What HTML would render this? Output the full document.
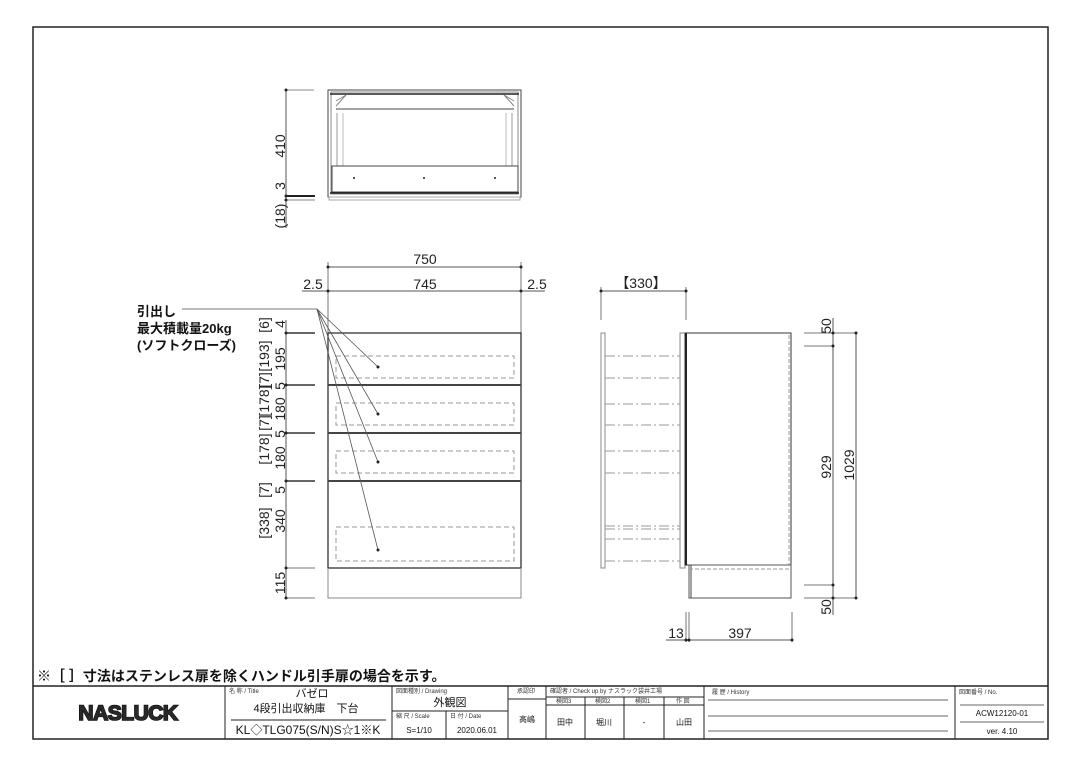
<!DOCTYPE html>
<html><head><meta charset="utf-8"><style>
html,body{margin:0;padding:0;background:#fff;}
svg{display:block;font-family:"Liberation Sans","Noto Sans CJK JP",sans-serif;}
.d{font-size:14px;fill:#222;}
.s{font-size:6px;fill:#333;}
.t{fill:#111;}
</style></head><body>
<svg width="1080" height="764" viewBox="0 0 1080 764" xmlns="http://www.w3.org/2000/svg">
<rect x="0" y="0" width="1080" height="764" fill="#fff"/>
<rect x="33" y="27" width="1015" height="712" fill="none" stroke="#222" stroke-width="1.5"/>

<!-- TOP VIEW -->
<g stroke="#444" fill="none" stroke-width="1">
<rect x="328" y="90" width="193" height="107"/>
<rect x="331" y="92" width="187" height="102" stroke="#888"/>
<line x1="330" y1="94" x2="519" y2="94" stroke="#222" stroke-width="1.5"/>
<line x1="336" y1="109" x2="514" y2="109"/>
<line x1="337" y1="113" x2="337" y2="166" stroke="#999"/>
<line x1="512" y1="113" x2="512" y2="166" stroke="#999"/>
<line x1="343" y1="113" x2="343" y2="166" stroke="#bbb"/>
<line x1="506" y1="113" x2="506" y2="166" stroke="#bbb"/>
<path d="M336 101 L346 95 M336 106 L346 95 M514 101 L504 95 M514 106 L504 95" stroke="#888"/>
<rect x="332" y="166" width="186" height="26"/>
<line x1="330" y1="193" x2="519" y2="193" stroke="#222" stroke-width="1.5"/>
<rect x="329" y="197" width="191" height="3" stroke="#aaa"/>
<line x1="286" y1="90" x2="286" y2="228" stroke="#555"/>
<line x1="286" y1="90" x2="314" y2="90" stroke="#888"/>
<line x1="286" y1="196" x2="315" y2="196" stroke="#222" stroke-width="2"/>
<line x1="286" y1="200" x2="315" y2="200" stroke="#888"/>
</g>
<g fill="#222"><circle cx="286" cy="90" r="1.5"/><circle cx="286" cy="196" r="1.5"/><circle cx="286" cy="200" r="1.5"/>
<circle cx="354" cy="178" r="1"/><circle cx="424" cy="178" r="1"/><circle cx="495" cy="178" r="1"/></g>
<text class="d" transform="translate(285,146) rotate(-90)" text-anchor="middle">410</text>
<text class="d" transform="translate(285,186) rotate(-90)" text-anchor="middle">3</text>
<text class="d" transform="translate(285,216) rotate(-90)" text-anchor="middle">(18)</text>

<!-- FRONT VIEW -->
<g stroke="#444" fill="none" stroke-width="1">
<line x1="328" y1="262" x2="328" y2="333" stroke="#777"/>
<line x1="521" y1="262" x2="521" y2="333" stroke="#777"/>
<line x1="328" y1="267" x2="521" y2="267" stroke="#555"/>
<line x1="302" y1="291" x2="545" y2="291" stroke="#555"/>
<rect x="328" y="333" width="193" height="235" stroke="#333" stroke-width="1.3"/>
<line x1="328" y1="385" x2="521" y2="385" stroke="#444" stroke-width="2"/>
<line x1="328" y1="433" x2="521" y2="433" stroke="#444" stroke-width="2"/>
<line x1="328" y1="481" x2="521" y2="481" stroke="#444" stroke-width="2"/>
<path d="M328 568 L328 598 L521 598 L521 568" stroke="#888"/>
<g stroke="#999" stroke-dasharray="5,3">
<rect x="336" y="356" width="178" height="22"/>
<rect x="336" y="403" width="178" height="22"/>
<rect x="336" y="451" width="178" height="22"/>
<rect x="336" y="527" width="178" height="34"/>
</g>
<line x1="286" y1="320" x2="286" y2="598" stroke="#555"/>
<line x1="286" y1="333" x2="315" y2="333" stroke="#333" stroke-width="1.5"/>
<line x1="286" y1="385" x2="315" y2="385" stroke="#333" stroke-width="1.5"/>
<line x1="286" y1="433" x2="315" y2="433" stroke="#333" stroke-width="1.5"/>
<line x1="286" y1="481" x2="315" y2="481" stroke="#333" stroke-width="1.5"/>
<line x1="286" y1="568" x2="315" y2="568" stroke="#777"/>
<line x1="286" y1="598" x2="315" y2="598" stroke="#777"/>
<line x1="182" y1="309" x2="317" y2="309" stroke="#777"/>
<g stroke="#555" stroke-width="0.8">
<line x1="317" y1="309" x2="378" y2="367"/>
<line x1="317" y1="309" x2="378" y2="414"/>
<line x1="317" y1="309" x2="378" y2="462"/>
<line x1="317" y1="309" x2="378" y2="550"/>
</g>
</g>
<g fill="#222"><circle cx="328" cy="267" r="1.5"/><circle cx="521" cy="267" r="1.5"/><circle cx="328" cy="291" r="1.5"/><circle cx="521" cy="291" r="1.5"/>
<circle cx="378" cy="367" r="1.5"/><circle cx="378" cy="414" r="1.5"/><circle cx="378" cy="462" r="1.5"/><circle cx="378" cy="550" r="1.5"/>
<circle cx="286" cy="333" r="1.5"/><circle cx="286" cy="385" r="1.5"/><circle cx="286" cy="433" r="1.5"/><circle cx="286" cy="481" r="1.5"/><circle cx="286" cy="568" r="1.5"/><circle cx="286" cy="598" r="1.5"/></g>
<text class="d" x="425" y="264" text-anchor="middle">750</text>
<text class="d" x="313" y="289" text-anchor="middle">2.5</text>
<text class="d" x="425" y="289" text-anchor="middle">745</text>
<text class="d" x="537" y="289" text-anchor="middle">2.5</text>
<g class="d" text-anchor="middle">
<text transform="translate(269,325) rotate(-90)">[6]</text>
<text transform="translate(269,356) rotate(-90)">[193]</text>
<text transform="translate(269,380) rotate(-90)">[7]</text>
<text transform="translate(269,401) rotate(-90)">[178]</text>
<text transform="translate(269,423) rotate(-90)">[7]</text>
<text transform="translate(269,449) rotate(-90)">[178]</text>
<text transform="translate(269,490) rotate(-90)">[7]</text>
<text transform="translate(269,523) rotate(-90)">[338]</text>
<text transform="translate(285,324) rotate(-90)">4</text>
<text transform="translate(285,359) rotate(-90)">195</text>
<text transform="translate(285,386) rotate(-90)">5</text>
<text transform="translate(285,409) rotate(-90)">180</text>
<text transform="translate(285,434) rotate(-90)">5</text>
<text transform="translate(285,458) rotate(-90)">180</text>
<text transform="translate(285,490) rotate(-90)">5</text>
<text transform="translate(285,521) rotate(-90)">340</text>
<text transform="translate(285,583) rotate(-90)">115</text>
</g>
<g class="t" font-size="13" font-weight="bold">
<text x="137" y="316">引出し</text>
<text x="137" y="333">最大積載量20kg</text>
<text x="137" y="350">(ソフトクローズ)</text>
</g>

<!-- SIDE VIEW -->
<g stroke="#444" fill="none" stroke-width="1">
<line x1="601" y1="287" x2="601" y2="320" stroke="#777"/>
<line x1="686" y1="287" x2="686" y2="320" stroke="#777"/>
<line x1="601" y1="291" x2="686" y2="291" stroke="#555"/>
<rect x="601" y="333" width="4" height="235" stroke="#888"/>
<rect x="680" y="333" width="5" height="235" stroke="#888"/>
<rect x="685" y="333" width="106" height="232" stroke="#333"/>
<line x1="686" y1="333" x2="686" y2="565" stroke="#222" stroke-width="2"/>
<line x1="789" y1="335" x2="789" y2="565" stroke="#999" stroke-dasharray="4,2"/>
<rect x="689" y="565" width="102" height="33" stroke="#555"/>
<line x1="691" y1="565" x2="691" y2="598"/>
<line x1="689" y1="569" x2="789" y2="569" stroke="#999" stroke-dasharray="4,2"/>
<g stroke="#999" stroke-dasharray="10,3,2,3">
<line x1="605" y1="356" x2="680" y2="356"/><line x1="605" y1="378" x2="680" y2="378"/>
<line x1="605" y1="404" x2="680" y2="404"/><line x1="605" y1="425" x2="680" y2="425"/>
<line x1="605" y1="451" x2="680" y2="451"/><line x1="605" y1="473" x2="680" y2="473"/>
<line x1="605" y1="526" x2="680" y2="526"/><line x1="605" y1="529" x2="680" y2="529"/>
<line x1="605" y1="539" x2="680" y2="539"/><line x1="605" y1="561" x2="680" y2="561"/>
</g>
<line x1="804" y1="333" x2="856" y2="333" stroke="#777"/>
<line x1="804" y1="346" x2="833" y2="346" stroke="#777"/>
<line x1="804" y1="585" x2="833" y2="585" stroke="#777"/>
<line x1="804" y1="598" x2="856" y2="598" stroke="#777"/>
<line x1="833" y1="318" x2="833" y2="615" stroke="#555"/>
<line x1="856" y1="333" x2="856" y2="598" stroke="#555"/>
<line x1="686" y1="612" x2="686" y2="642" stroke="#777"/>
<line x1="689" y1="612" x2="689" y2="642" stroke="#777"/>
<line x1="792" y1="612" x2="792" y2="642" stroke="#777"/>
<line x1="666" y1="640" x2="792" y2="640" stroke="#555"/>
</g>
<g fill="#222"><circle cx="601" cy="291" r="1.5"/><circle cx="686" cy="291" r="1.5"/>
<circle cx="833" cy="333" r="1.5"/><circle cx="833" cy="346" r="1.5"/><circle cx="833" cy="585" r="1.5"/><circle cx="833" cy="598" r="1.5"/>
<circle cx="856" cy="333" r="1.5"/><circle cx="856" cy="598" r="1.5"/>
<circle cx="686" cy="640" r="1.5"/><circle cx="689" cy="640" r="1.5"/><circle cx="792" cy="640" r="1.5"/></g>
<text class="d" x="641" y="288" text-anchor="middle">【330】</text>
<text class="d" transform="translate(831,326) rotate(-90)" text-anchor="middle">50</text>
<text class="d" transform="translate(831,467) rotate(-90)" text-anchor="middle">929</text>
<text class="d" transform="translate(854,465) rotate(-90)" text-anchor="middle">1029</text>
<text class="d" transform="translate(831,607) rotate(-90)" text-anchor="middle">50</text>
<text class="d" x="676" y="638" text-anchor="middle">13</text>
<text class="d" x="740" y="638" text-anchor="middle">397</text>

<text x="37" y="681" font-size="14" font-weight="bold" class="t">※［ ］寸法はステンレス扉を除くハンドル引手扉の場合を示す。</text>

<!-- TITLE BLOCK -->
<g stroke="#222" fill="none" stroke-width="1">
<line x1="33" y1="686" x2="1048" y2="686" stroke-width="1.5"/>
<line x1="225" y1="686" x2="225" y2="739"/>
<line x1="392" y1="686" x2="392" y2="739"/>
<line x1="508" y1="686" x2="508" y2="739"/>
<line x1="546" y1="686" x2="546" y2="739"/>
<line x1="704" y1="686" x2="704" y2="739"/>
<line x1="955" y1="686" x2="955" y2="739"/>
<line x1="231" y1="720" x2="386" y2="720"/>
<line x1="392" y1="711" x2="508" y2="711"/>
<line x1="446" y1="711" x2="446" y2="739"/>
<line x1="508" y1="699" x2="546" y2="699"/>
<line x1="546" y1="697" x2="704" y2="697"/>
<line x1="546" y1="705" x2="704" y2="705"/>
<line x1="585" y1="697" x2="585" y2="739"/>
<line x1="624" y1="697" x2="624" y2="739"/>
<line x1="664" y1="697" x2="664" y2="739"/>
<line x1="708" y1="700" x2="948" y2="700" stroke="#666"/>
<line x1="708" y1="716" x2="948" y2="716" stroke="#666"/>
<line x1="708" y1="731" x2="948" y2="731" stroke="#666"/>
<line x1="960" y1="705" x2="1044" y2="705" stroke="#666"/>
<line x1="960" y1="722" x2="1044" y2="722" stroke="#666"/>
</g>
<text x="128" y="720" font-size="21" font-weight="900" text-anchor="middle" fill="#fff" stroke="#111" stroke-width="1.6" paint-order="stroke" letter-spacing="-0.5">NASLUCK</text>
<text x="128" y="720" font-size="21" font-weight="900" text-anchor="middle" fill="#111" stroke="#111" stroke-width="0.5" letter-spacing="-0.5" opacity="0.9">NASLUCK</text>
<g class="s"><text x="229" y="693">名 称 / Title</text><text x="396" y="693">図面種別 / Drawing</text>
<text x="396" y="718">縮 尺 / Scale</text><text x="450" y="718">日 付 / Date</text>
<text x="517" y="693">承認印</text><text x="550" y="693">確認者 / Check up by ナスラック袋井工場</text>
<text x="556" y="703">検図3</text><text x="595" y="703">検図2</text><text x="635" y="703">検図1</text><text x="676" y="703">作 図</text>
<text x="712" y="694">履 歴 / History</text><text x="959" y="694">図面番号 / No.</text></g>
<g class="t" font-size="10">
<text x="312" y="697" text-anchor="middle" font-size="11">バゼロ</text>
<text x="306" y="712" text-anchor="middle" font-size="11">4段引出収納庫　下台</text>
<text x="308" y="734" text-anchor="middle" font-size="12">KL◇TLG075(S/N)S☆1※K</text>
<text x="450" y="706" text-anchor="middle" font-size="11">外観図</text>
<text x="419" y="733" text-anchor="middle" font-size="8">S=1/10</text>
<text x="477" y="733" text-anchor="middle" font-size="8">2020.06.01</text>
<text x="527" y="722" text-anchor="middle" font-size="8">高嶋</text>
<text x="565" y="725" text-anchor="middle" font-size="8">田中</text>
<text x="604" y="725" text-anchor="middle" font-size="8">堀川</text>
<text x="644" y="725" text-anchor="middle" font-size="8">-</text>
<text x="684" y="725" text-anchor="middle" font-size="8">山田</text>
<text x="1002" y="716" text-anchor="middle" font-size="8">ACW12120-01</text>
<text x="1002" y="734" text-anchor="middle" font-size="8">ver. 4.10</text>
</g>
</svg>
</body></html>
